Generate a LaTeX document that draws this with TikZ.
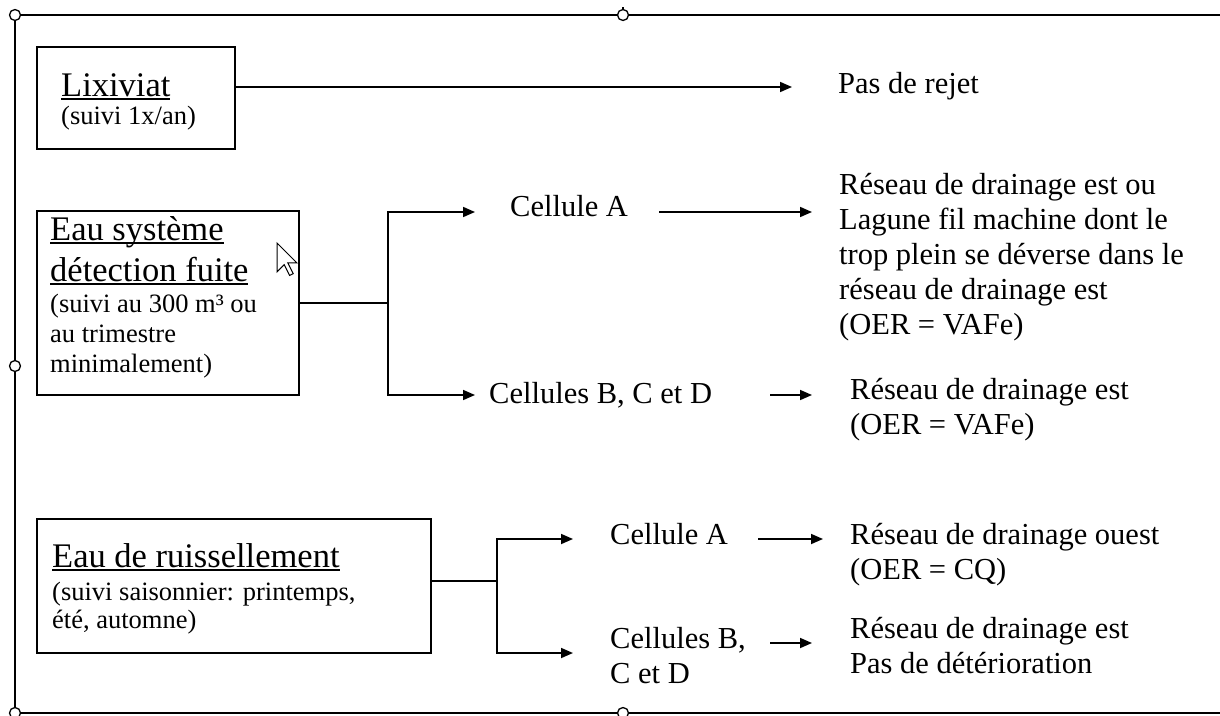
\documentclass[tikz,border=0pt]{standalone}
\usepackage{fontspec}
\setmainfont{Liberation Serif}
\usetikzlibrary{arrows.meta}
\newcommand\fmain{\fontsize{30.5pt}{35pt}\selectfont}
\newcommand\fhead{\fontsize{34.5pt}{40pt}\selectfont}
\newcommand\fsmall{\fontsize{26.5pt}{30pt}\selectfont}
\newcommand\myul[1]{\setbox0\hbox{#1}\rlap{\rule[-3.5pt]{\wd0}{1.5pt}}\box0}
\begin{document}
\begin{tikzpicture}[x=1pt,y=-1pt,
  box/.style={draw,line width=1.7pt,inner sep=0pt},
  txt/.style={anchor=base west,inner sep=0pt,font=\fmain},
  head/.style={txt,font=\fhead},
  small/.style={txt,font=\fsmall},
  conn/.style={line width=1.7pt},
  arr/.style={conn,-{Triangle[length=12pt,width=10pt]}},
  frame/.style={line width=1.7pt},
  handle/.style={circle,draw,fill=white,line width=1.3pt,minimum size=11pt,inner sep=0pt}]
\useasboundingbox (0,0) rectangle (1220,715);
% frame
\coordinate (ftl) at (15,15);
\coordinate (ftr) at (1220,15);
\coordinate (fbl) at (15,713);
\coordinate (fbr) at (1220,713);
\draw[frame] (ftr) -- (ftl) -- (fbl) -- (fbr);
\coordinate (tick) at (623,7);
\draw[line width=1.3pt] (tick) -- (623,15);
\node[handle] (h1) at (15,15) {};
\node[handle] (h2) at (623,15) {};
\node[handle] (h3) at (15,366) {};
\node[handle] (h4) at (15,713) {};
\node[handle] (h5) at (623,713) {};
% boxes
\node[box,minimum width=198pt,minimum height=102pt] (lix) at (136,98) {};
\node[box,minimum width=262pt,minimum height=184pt] (eau) at (168,303) {};
\node[box,minimum width=394pt,minimum height=134pt] (ruis) at (234,586) {};
% box texts
\node[head] (lixt) at (61,96) {\myul{Lixiviat}};
\node[small] (lixs) at (61,124) {(suivi 1x/an)};
\node[head] (eaut1) at (50,240) {\myul{Eau système}};
\node[head] (eaut2) at (50,281) {\myul{détection fuite}};
\node[small] (eaus1) at (50,312) {(suivi au 300 m³ ou};
\node[small] (eaus2) at (50,342) {au trimestre};
\node[small] (eaus3) at (50,372) {minimalement)};
\node[head] (ruist) at (52,567) {\myul{Eau de ruissellement}};
\node[small] (ruiss1) at (52,600) {(suivi saisonnier: printemps,};
\node[small] (ruiss2) at (52,628) {été, automne)};
% other texts
\node[txt] (rejet) at (838,93) {Pas de rejet};
\node[txt] (cA1) at (510,216) {Cellule A};
\node[txt] (r1) at (839,194) {Réseau de drainage est ou};
\node[txt] (r2) at (839,229) {Lagune fil machine dont le};
\node[txt] (r3) at (839,264) {trop plein se déverse dans le};
\node[txt] (r4) at (839,299) {réseau de drainage est};
\node[txt] (r5) at (839,334) {(OER = VAFe)};
\node[txt] (cB1) at (489,403) {Cellules B, C et D};
\node[txt] (s1) at (850,399) {Réseau de drainage est};
\node[txt] (s2) at (850,434) {(OER = VAFe)};
\node[txt] (cA2) at (610,544) {Cellule A};
\node[txt] (u1) at (850,544) {Réseau de drainage ouest};
\node[txt] (u2) at (850,579) {(OER = CQ)};
\node[txt] (cB2a) at (610,648) {Cellules B,};
\node[txt] (cB2b) at (610,683) {C et D};
\node[txt] (v1) at (850,638) {Réseau de drainage est};
\node[txt] (v2) at (850,673) {Pas de détérioration};
% connectors
\coordinate (t1) at (792,87);
\draw[arr] (lix.east |- t1) -- (t1);
\coordinate (j1) at (388,303);
\coordinate (t2) at (475,212);
\coordinate (t3) at (475,395);
\draw[conn] (eau.east) -- (j1);
\draw[arr] (j1) |- (t2);
\draw[arr] (j1) |- (t3);
\coordinate (a1s) at (659,212);
\coordinate (a1e) at (812,212);
\draw[arr] (a1s) -- (a1e);
\coordinate (a2s) at (770,395);
\coordinate (a2e) at (812,395);
\draw[arr] (a2s) -- (a2e);
\coordinate (j2) at (497,581);
\coordinate (t4) at (573,539);
\coordinate (t5) at (573,653);
\draw[conn] (ruis.east |- j2) -- (j2);
\draw[arr] (j2) |- (t4);
\draw[arr] (j2) |- (t5);
\coordinate (a3s) at (758,539);
\coordinate (a3e) at (823,539);
\draw[arr] (a3s) -- (a3e);
\coordinate (a4s) at (770,643);
\coordinate (a4e) at (812,643);
\draw[arr] (a4s) -- (a4e);
% mouse cursor
\draw[line width=1pt,fill=white,line join=miter] (277,243) -- ++(0,28.8) -- ++(7.2,-7.2) -- ++(5.4,10.8) -- ++(3.6,-1.8) -- ++(-5.4,-10.8) -- ++(9,0) -- cycle;
\end{tikzpicture}
\end{document}
